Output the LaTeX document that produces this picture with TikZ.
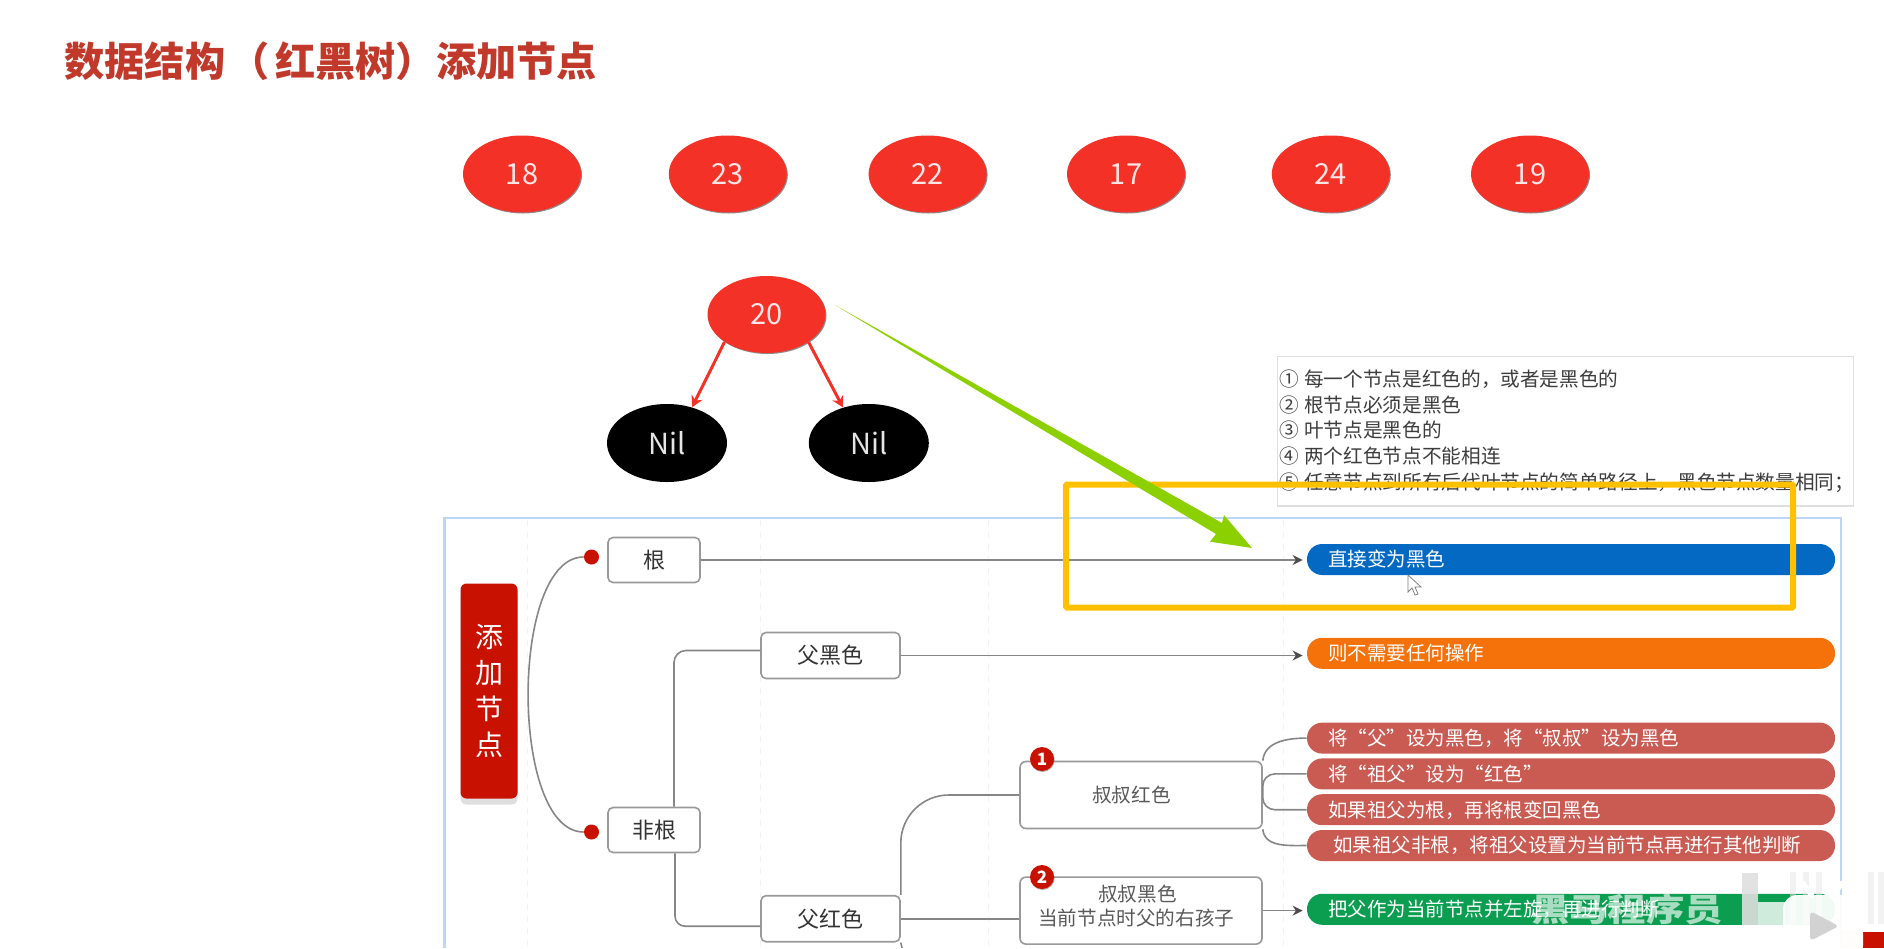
\documentclass[tikz,border=0pt]{standalone}
\usepackage{fontspec}
\setmainfont{Noto Sans CJK SC}
\usetikzlibrary{positioning, shapes.geometric, shadows, arrows.meta}
\definecolor{titlered}{HTML}{C0392B}
\definecolor{treered}{HTML}{F33127}
\definecolor{rootred}{HTML}{C91100}
\definecolor{pillblue}{HTML}{0369C3}
\definecolor{pillorange}{HTML}{F57109}
\definecolor{pillred}{HTML}{C95B52}
\definecolor{pillgreen}{HTML}{0B9E50}
\definecolor{arrowgreen}{HTML}{8CD000}
\definecolor{markyellow}{HTML}{FFC000}
\definecolor{panelblue}{HTML}{BBD7F5}
\begin{document}
\begin{tikzpicture}[
            x=0.5pt, y=-0.5pt,
            rednode/.style={ellipse, fill=treered, text=white!90!red, inner sep=0pt, minimum width=59pt, minimum height=38.5pt, font=\fontsize{14.5}{16}\selectfont, drop shadow={shadow xshift=0.5pt, shadow yshift=-0.5pt, fill=black, opacity=0.45}},
            nilnode/.style={ellipse, fill=black, text=white!90!black, inner sep=0pt, minimum width=60pt, minimum height=39pt, font=\fontsize{14.5}{16}\selectfont},
            treeedge/.style={draw=treered, line width=1.5pt, -{Stealth[length=5.5pt, width=6pt]}},
            topicbox/.style={draw=gray!80, line width=0.8pt, rounded corners=2.5pt, fill=white, text=black!80, align=center, inner sep=0pt, font=\fontsize{11}{14}\selectfont},
            subbox/.style={draw=gray!80, line width=0.8pt, rounded corners=3pt, fill=white, text=black!65, align=center, inner sep=0pt, minimum width=121pt, minimum height=33.5pt, font=\fontsize{9.8}{12}\selectfont},
            pill/.style={rounded corners=7.6pt, text=white, align=left, inner xsep=10.5pt, inner ysep=0pt, text width=243pt, minimum height=15.5pt, text height=8.4pt, text depth=1pt, font=\fontsize{9.75}{11}\selectfont},
            edge/.style={draw=gray!95, line width=0.8pt},
            arrowedge/.style={edge, shorten >=2pt, -{Stealth[length=5pt, width=5pt, black!70]}},
            dotnode/.style={circle, fill=rootred, inner sep=0pt, minimum size=7.5pt},
            badge/.style={circle, fill=rootred, text=white, inner sep=0pt, minimum size=12pt, font=\fontsize{8.5}{9}\bfseries\selectfont, drop shadow={shadow xshift=0.3pt, shadow yshift=-0.5pt, fill=black, opacity=0.3}}
        ]
        \useasboundingbox (0,0) rectangle (1884,948);

        % panel
        \coordinate (panelbl) at (444.5,948);
        \coordinate (paneltr) at (1841,518);
        \foreach \gridx in {527.5,760,988,1283} {
            \draw[gray!10, dashed, line width=0.4pt] (\gridx,520) -- (\gridx,948);
        }
        \draw[panelblue, line width=1.2pt] (panelbl) |- (paneltr) -- (paneltr |- panelbl);

        % title
        \node[anchor=west, inner sep=0pt, text=titlered, font=\fontsize{20.1}{22}\bfseries\selectfont] (title) at (64,61) {数据结构\hspace{2pt}（\hspace{3pt}红黑树）添加节点};

        % Knoten tree
        \node[rednode] (n18) at (522,174) {18};
        \node[rednode, right=43.5pt of n18] (n23) {23};
        \node[rednode, right=40.5pt of n23] (n22) {22};
        \node[rednode, right=39.8pt of n22] (n17) {17};
        \node[rednode, right=43pt of n17] (n24) {24};
        \node[rednode, right=40.2pt of n24] (n19) {19};
        \node[rednode] (n20) at (766.5,314.5) {20};
        \node[nilnode] (nilleft) at (667,443) {Nil};
        \node[nilnode, right=40.5pt of nilleft] (nilright) {Nil};

        \draw[treeedge] (n20.south west) -- (nilleft.55);
        \draw[treeedge] (n20.south east) -- (nilright.126);

        % rules
        \node[anchor=north west, draw=gray!25, fill=white, line width=0.6pt, text=black!76, align=left, inner xsep=1pt, inner ysep=6.8pt, text width=286pt, minimum height=72.7pt, font=\fontsize{9.82}{12.85}\selectfont, drop shadow={shadow xshift=0pt, shadow yshift=-0.6pt, fill=black, opacity=0.12}] (rules) at (1277,355.6) {①\hspace{2.5pt}每一个节点是红色的，或者是黑色的\\②\hspace{2.5pt}根节点必须是黑色\\③\hspace{2.5pt}叶节点是黑色的\\④\hspace{2.5pt}两个红色节点不能相连\\⑤\hspace{2.5pt}任意节点到所有后代叶节点的简单路径上，黑色节点数量相同；};

        % Knoten mind map
        \node[fill=rootred, rounded corners=3pt, text=white, align=center, inner sep=0pt, minimum width=28.5pt, minimum height=107.5pt, font=\fontsize{14}{18}\selectfont, drop shadow={shadow xshift=0pt, shadow yshift=-3pt, fill=gray!35, opacity=0.7}] (root) at (489,691) {添\\加\\节\\点};
        \node[topicbox, minimum width=46pt, minimum height=22.5pt] (gen) at (654,560) {根};
        \node[topicbox, minimum width=46pt, minimum height=22.5pt, below=111.7pt of gen] (feigen) {非根};
        \node[dotnode] (dotgen) at (591.5,557) {};
        \node[dotnode] (dotfei) at (591.5,832) {};
        \node[topicbox, minimum width=69.5pt, minimum height=23pt] (fuhei) at (830.5,655.5) {父黑色};
        \node[topicbox, minimum width=69.5pt, minimum height=23pt, below=107.8pt of fuhei] (fuhong) {父红色};
        \node[subbox] (shuhong) at (1141,795) {叔叔红色\hspace*{9.6pt}};
        \node[subbox, below=23.5pt of shuhong] (shuhei) {叔叔黑色\hspace*{3.6pt}\\\mbox{当前节点时父的右孩子\hspace{4.8pt}}\\[-7pt]\mbox{}};
        \node[badge] (badgeone) at (1042,759) {1};
        \node[badge] (badgetwo) at (1042,877) {2};

        \node[pill, fill=pillblue] (pillroot) at (1571,559.5) {直接变为黑色};
        \node[pill, fill=pillorange, below=31pt of pillroot] (pillblack) {则不需要任何操作};
        \node[pill, fill=pillred, below=26.5pt of pillblack] (pillone) {将“父”设为黑色，将“叔叔”设为黑色};
        \node[pill, fill=pillred, below=2pt of pillone] (pilltwo) {将“祖父”设为“红色”};
        \node[pill, fill=pillred, below=2pt of pilltwo] (pillthree) {如果祖父为根，再将根变回黑色};
        \node[pill, fill=pillred, below=2pt of pillthree] (pillfour) {\hspace{2.5pt}如果祖父非根，将祖父设置为当前节点再进行其他判断};
        \node[pill, fill=pillgreen, below=16pt of pillfour] (pillgreen) {把父作为当前节点并左旋，再进行判断};

        % Kanten
        \draw[edge] (dotgen.west) to[out=180, in=180, looseness=0.69] (dotfei.west);
        \draw[edge, rounded corners=6pt] ([xshift=10pt]feigen.north) |- ([yshift=2.5pt]fuhei.west);
        \draw[edge, rounded corners=5pt] ([xshift=10.5pt]feigen.south) |- ([yshift=-3.75pt]fuhong.west);
        \draw[edge, rounded corners=24pt] (fuhong.north east) |- (shuhong.west);
        \draw[edge] (fuhong.east) -- (shuhei.west |- fuhong.east);
        \coordinate (fuhongend) at (902,948);
        \draw[edge] (fuhong.south east) -- (fuhongend);
        \draw[arrowedge] (gen.east) -- (pillroot.west |- gen.east);
        \draw[arrowedge] (fuhei.east) -- (pillblack.west |- fuhei.east);
        \draw[edge] (shuhong.north east) to[out=85, in=180] (pillone.west);
        \draw[edge, rounded corners=6pt] (shuhong.east) |- (pilltwo.west);
        \draw[edge, rounded corners=6pt] (shuhong.east) |- (pillthree.west);
        \draw[edge] (shuhong.south east) to[out=-85, in=180] (pillfour.west);
        \draw[arrowedge] (shuhei.east) -- (pillgreen.west |- shuhei.east);

        % markup
        \node[draw=markyellow, line width=3pt, rounded corners=0.5pt, inner sep=0pt, minimum width=363.5pt, minimum height=61.5pt] (markbox) at (1429.5,546) {};
        \coordinate (gstart) at (835,305);
        \coordinate (gneckone) at (1222,523);
        \coordinate (gbarbone) at (1224,515);
        \coordinate (gtip) at (1252,548);
        \coordinate (gbarbtwo) at (1210,541.7);
        \coordinate (gnecktwo) at (1216,534);
        \fill[arrowgreen] (gstart) -- (gneckone) -- (gbarbone) -- (gtip) -- (gbarbtwo) -- (gnecktwo) -- cycle;

        % cursor
        \draw[fill=white, draw=gray, line width=0.4pt] (1408,575) -- (1408,592) -- (1412,588) -- (1415,595) -- (1418,594) -- (1415,587) -- (1421,587) -- cycle;

        % video overlay
        \node[anchor=center, inner sep=0pt, text=white, opacity=0.65, font=\fontsize{16}{20}\bfseries\selectfont] (mark) at (1627,909) {\scalebox{1.2}[1]{黑马程序员}};
        \fill[gray!25, opacity=0.9] (1742,873) rectangle (1758,925);
        \fill[white, opacity=0.8] (1758,902) rectangle (1785,925);
        \foreach \stripex in {1790,1803,1816,1868,1878} {
            \fill[gray!20, opacity=0.5] (\stripex,872) rectangle ++(6,52);
        }
        \fill[red!20] (1842,930) rectangle (1863,948);
        \fill[rootred] (1863,932) rectangle (1884,948);
        \draw[white, line width=2.5pt, line cap=round] (1803,883) -- (1812,896);
        \draw[white, line width=2.5pt, line cap=round] (1842,883) -- (1833,896);
        \fill[white, opacity=0.95, rounded corners=7pt] (1783,895) rectangle (1863,960);
        \fill[gray!35, rounded corners=2pt] (1810,911) -- (1839,926) -- (1810,941) -- cycle;

    \end{tikzpicture}
\end{document}
